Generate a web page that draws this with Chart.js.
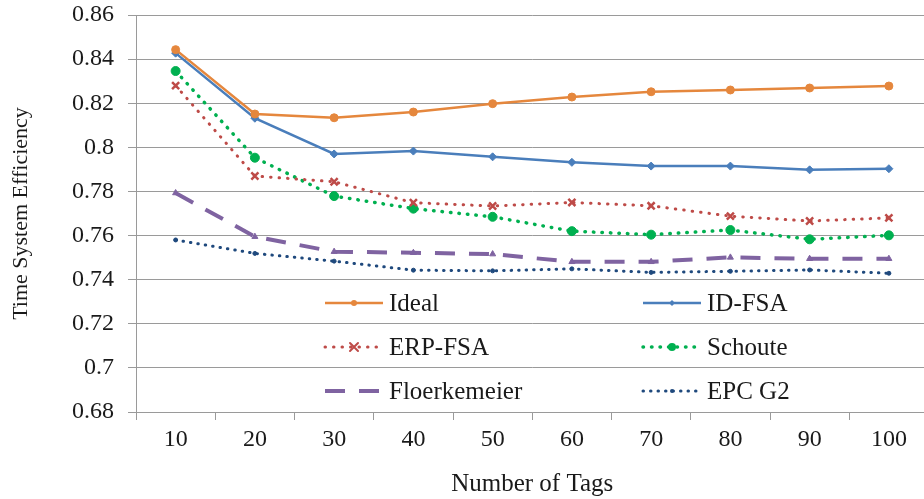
<!DOCTYPE html>
<html>
<head>
<meta charset="utf-8">
<script src="https://cdn.jsdelivr.net/npm/chart.js@4/dist/chart.umd.min.js"></script>
<style>
html,body{margin:0;padding:0;background:#fff;overflow:hidden;}
#wrap{width:924px;height:499px;overflow:hidden;}
</style>
</head>
<body>
<div id="wrap"><canvas id="c" width="936" height="499"></canvas></div>
<script>
const categories = ['10','20','30','40','50','60','70','80','90','100'];
const ideal        = [0.8443,0.8151,0.8134,0.8160,0.8198,0.8228,0.8252,0.8260,0.8269,0.8278];
const idFsa        = [0.8427,0.8132,0.7970,0.7983,0.7957,0.7932,0.7915,0.7915,0.7898,0.7903];
const erpFsa       = [0.8280,0.7870,0.7844,0.7749,0.7734,0.7750,0.7735,0.7688,0.7666,0.7680];
const schoute      = [0.8346,0.7953,0.7779,0.7722,0.7685,0.7620,0.7604,0.7625,0.7583,0.7601];
const floerkemeier = [0.7793,0.7595,0.7527,0.7522,0.7516,0.7481,0.7481,0.7501,0.7495,0.7495];
const epcG2        = [0.7580,0.7519,0.7484,0.7443,0.7440,0.7449,0.7433,0.7438,0.7444,0.7429];
const seriesNames  = ['Ideal','ID-FSA','ERP-FSA','Schoute','Floerkemeier','EPC G2'];
const yMin = 0.68, yMax = 0.86, yStep = 0.02;
const xTitle = 'Number of Tags';
const yTitle = 'Time System Efficiency';

const FONT = '"Liberation Serif", "Times New Roman", serif';
const styles = [
  {color:'#E5873D', width:2.5, dash:[], cap:'butt', point:'circle', r:4, lr:3},
  {color:'#4A7EBB', width:2.5, dash:[], cap:'butt', point:'rectRot', r:4, lr:3},
  {color:'#BE4B48', width:3, dash:[0.5,8], cap:'round', point:'crossRot', r:5, lr:4},
  {color:'#00B050', width:3.5, dash:[0.5,8], cap:'round', point:'circle', r:4.5, lr:4},
  {color:'#7F63A1', width:4, dash:[20,14], cap:'butt', point:'triangle', r:3.5, lr:0},
  {color:'#1F497D', width:3, dash:[0.5,7], cap:'round', point:'circle', r:2, lr:2}
];
const allData = [ideal, idFsa, erpFsa, schoute, floerkemeier, epcG2];

const datasets = allData.map((d,i)=>({
  label: seriesNames[i],
  data: d,
  borderColor: styles[i].color,
  backgroundColor: styles[i].color,
  borderWidth: styles[i].width,
  borderDash: styles[i].dash,
  borderCapStyle: styles[i].cap,
  pointStyle: styles[i].point,
  pointRadius: styles[i].r,
  pointHoverRadius: styles[i].r,
  pointBorderWidth: styles[i].point==='crossRot'?2.5:1,
  pointBackgroundColor: styles[i].color,
  pointBorderColor: styles[i].color,
  tension: 0,
  fill: false
}));

function drawMarker(ctx, style, x, y, r){
  ctx.save();
  ctx.fillStyle = style.color; ctx.strokeStyle = style.color;
  ctx.setLineDash([]);
  ctx.beginPath();
  if (style.point==='circle'){ ctx.arc(x,y,r,0,Math.PI*2); ctx.fill(); }
  else if (style.point==='rectRot'){ ctx.moveTo(x,y-r); ctx.lineTo(x+r,y); ctx.lineTo(x,y+r); ctx.lineTo(x-r,y); ctx.closePath(); ctx.fill(); }
  else if (style.point==='crossRot'){ ctx.lineWidth=2; ctx.moveTo(x-r,y-r); ctx.lineTo(x+r,y+r); ctx.moveTo(x+r,y-r); ctx.lineTo(x-r,y+r); ctx.stroke(); }
  ctx.restore();
}

const legendPlugin = {
  id:'customLegend',
  afterDraw(chart){
    const ctx = chart.ctx;
    const colX = [325, 643];
    const rowY = [303, 347, 391];
    const sampleLen = 58;
    ctx.save();
    chart.data.datasets.forEach((ds,i)=>{
      const s = styles[i];
      const x = colX[i%2], y = rowY[Math.floor(i/2)];
      ctx.beginPath();
      ctx.strokeStyle = s.color;
      ctx.lineWidth = s.width;
      ctx.lineCap = s.cap;
      ctx.setLineDash(s.dash);
      ctx.moveTo(x, y); ctx.lineTo(x+sampleLen, y);
      ctx.stroke();
      ctx.setLineDash([]);
      if (s.lr>0) drawMarker(ctx, s, x+sampleLen/2, y, s.lr);
      ctx.fillStyle = '#1a1a1a';
      ctx.font = '25px ' + FONT;
      ctx.textBaseline = 'middle';
      ctx.textAlign = 'left';
      ctx.fillText(ds.label, x+sampleLen+6, y+1);
    });
    ctx.restore();
  }
};

new Chart(document.getElementById('c'), {
  type:'line',
  data:{labels:categories, datasets},
  options:{
    responsive:false,
    animation:false,
    devicePixelRatio:1,
    layout:{padding:{top:15,right:0,left:0,bottom:0}},
    plugins:{legend:{display:false}, tooltip:{enabled:false}},
    scales:{
      x:{
        offset:true,
        grid:{drawOnChartArea:false, drawTicks:true, tickLength:8, offset:true, color:'#9a9a9a', lineWidth:1},
        border:{display:true, color:'#9a9a9a', width:1},
        ticks:{color:'#1a1a1a', font:{family:FONT, size:24}, padding:5, maxRotation:0, autoSkip:false},
        title:{display:true, text:xTitle, color:'#1a1a1a', font:{family:FONT, size:25}, padding:{top:12,bottom:0}},
        afterFit(scale){ scale.height = 87; }
      },
      y:{
        min:yMin, max:yMax,
        ticks:{stepSize:yStep, color:'#1a1a1a', font:{family:FONT, size:24}, padding:14,
          callback:(v)=>String(Number(v.toFixed(2)))},
        grid:{drawOnChartArea:true, drawTicks:true, tickLength:8, color:'#9a9a9a', lineWidth:1},
        border:{display:true, color:'#9a9a9a', width:1},
        title:{display:true, text:yTitle, color:'#1a1a1a', font:{family:FONT, size:22}, padding:{top:8,bottom:0}},
        afterFit(scale){ scale.width = 136; scale.paddingTop = 0; scale.paddingBottom = 0; }
      }
    }
  },
  plugins:[legendPlugin]
});
</script>
</body>
</html>
